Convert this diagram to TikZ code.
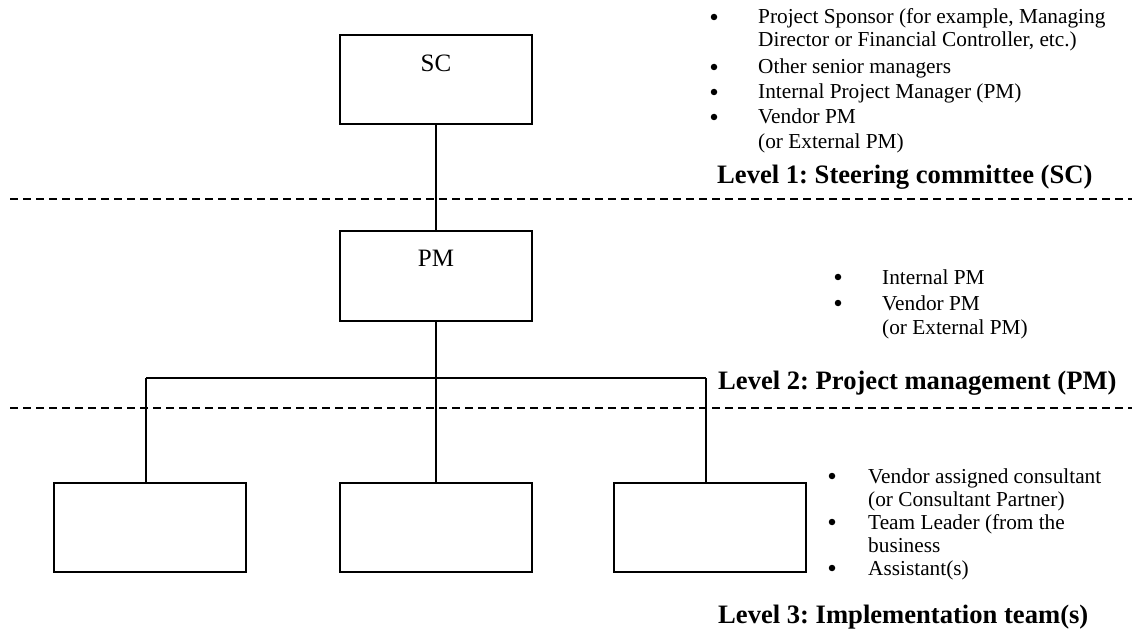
\documentclass[tikz,border=0pt]{standalone}
\usepackage{fontspec}
\setmainfont{Liberation Serif}
\frenchspacing
\begin{document}
\begin{tikzpicture}[x=1pt,y=-1pt,
  box/.style={draw,line width=2pt,minimum width=192pt,minimum height=89pt,inner sep=0pt},
  conn/.style={line width=1.8pt},
  sep/.style={line width=1.5pt,dash pattern=on 8pt off 5pt},
  body/.style={font=\fontsize{21.3}{24}\selectfont,inner sep=0pt,anchor=base west},
  blt/.style={circle,fill,inner sep=0pt,minimum size=6.5pt},
  boxlbl/.style={font=\fontsize{25}{28}\selectfont,inner sep=0pt},
  lvl/.style={font=\fontsize{26.6}{30}\selectfont\bfseries,inner sep=0pt,anchor=base west}]
\useasboundingbox (0,0) rectangle (1132,636);
% separators
\coordinate (s1a) at (10,199); \coordinate (s1b) at (1132,199);
\coordinate (s2a) at (10,408); \coordinate (s2b) at (1132,408);
\draw[sep] (s1a) -- (s1b);
\draw[sep] (s2a) -- (s2b);
% boxes
\node[box] (SC) at (436,79.5) {};
\node[boxlbl] (SClbl) at (436,63) {SC};
\node[box] (PM) at (436,276) {};
\node[boxlbl] (PMlbl) at (436,258) {PM};
\node[box] (T1) at (150,527.5) {};
\node[box] (T2) at (436,527.5) {};
\node[box] (T3) at (710,527.5) {};
% connectors
\coordinate (bl) at (146,378);
\coordinate (bm) at (436,378);
\coordinate (br) at (706,378);
\draw[conn] (SC.south) -- (PM.north);
\draw[conn] (PM.south) -- (bm);
\draw[conn] (bl) -- (br);
\draw[conn] (bl) -- (bl |- T1.north);
\draw[conn] (bm) -- (T2.north);
\draw[conn] (br) -- (br |- T3.north);
% level 1 list
\node[blt] (b11) at (714,17) {};
\node[body] (t11) at (758,24) {Project Sponsor (for example, Managing};
\node[body] (t12) at (758,47) {Director or Financial Controller, etc.)};
\node[blt] (b12) at (714,67) {};
\node[body] (t13) at (758,74) {Other senior managers};
\node[blt] (b13) at (714,92) {};
\node[body] (t14) at (758,99) {Internal Project Manager (PM)};
\node[blt] (b14) at (714,117) {};
\node[body] (t15) at (758,124) {Vendor PM};
\node[body] (t16) at (758,149) {(or External PM)};
\node[lvl] (L1) at (717,184) {Level 1: Steering committee (SC)};
% level 2 list
\node[blt] (b21) at (838,277) {};
\node[body] (t21) at (882,284) {Internal PM};
\node[blt] (b22) at (838,303) {};
\node[body] (t22) at (882,310) {Vendor PM};
\node[body] (t23) at (882,334) {(or External PM)};
\node[lvl] (L2) at (718,389) {Level 2: Project management (PM)};
% level 3 list
\node[blt] (b31) at (832,476) {};
\node[body] (t31) at (868,483) {Vendor assigned consultant};
\node[body] (t32) at (868,506) {(or Consultant Partner)};
\node[blt] (b32) at (832,522) {};
\node[body] (t33) at (868,529) {Team Leader (from the};
\node[body] (t34) at (868,552) {business};
\node[blt] (b33) at (832,568) {};
\node[body] (t35) at (868,575) {Assistant(s)};
\node[lvl] (L3) at (718,623) {Level 3: Implementation team(s)};
\end{tikzpicture}
\end{document}
